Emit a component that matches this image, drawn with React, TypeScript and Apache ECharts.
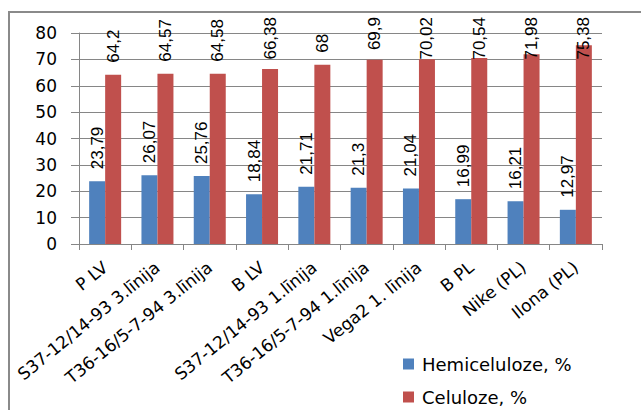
import React, { useEffect, useRef } from "react";
import * as echarts from "echarts";

// Varieties / breeding lines
const categories = [
  "P LV",
  "S37-12/14-93 3.līnija",
  "T36-16/5-7-94 3.līnija",
  "B LV",
  "S37-12/14-93 1.līnija",
  "T36-16/5-7-94 1.līnija",
  "Vega2 1. līnija",
  "B PL",
  "Nike (PL)",
  "Ilona (PL)",
];

// Content, %
const hemicelluloseValues = [23.79, 26.07, 25.76, 18.84, 21.71, 21.3, 21.04, 16.99, 16.21, 12.97];
const celluloseValues = [64.2, 64.57, 64.58, 66.38, 68, 69.9, 70.02, 70.54, 71.98, 75.38];

const seriesNames = ["Hemiceluloze, %", "Celuloze, %"];
const seriesColors = ["#4F81BD", "#C0504D"];

const axisGray = "#868686";
const labelFont = "'DejaVu Sans', Verdana, sans-serif";
const valueFont = "'Liberation Sans', Arial, sans-serif";

const toComma = (v: number) => String(v).replace(".", ",");

// keep rotated value labels inside the chart frame
const clampTop = (p: any) => {
  const r = p.labelRect;
  return r.y < 17 ? { y: 17 + r.height } : {};
};

export default function App() {
  const ref = useRef<HTMLDivElement>(null);

  useEffect(() => {
    if (!ref.current) return;
    const chart = echarts.init(ref.current, undefined, { renderer: "svg" });

    const valueLabel = {
      show: true,
      position: "top" as const,
      distance: 12,
      rotate: 90,
      align: "left" as const,
      verticalAlign: "middle" as const,
      fontFamily: valueFont,
      fontSize: 17,
      color: "#000",
      formatter: (p: any) => toComma(p.value),
    };

    chart.setOption({
      animation: false,
      backgroundColor: "#fff",
      graphic: [
        {
          type: "rect",
          shape: { x: 9, y: 12, width: 700, height: 500 },
          style: { fill: "none", stroke: "#8a8a8a", lineWidth: 2 },
          silent: true,
        },
      ],
      grid: { left: 79, right: 39, top: 33, bottom: 166, containLabel: false },
      legend: {
        orient: "vertical",
        left: 403,
        top: 355,
        height: 60,
        padding: 0,
        itemWidth: 11,
        itemHeight: 11,
        itemGap: 15,
        icon: "rect",
        data: seriesNames,
        textStyle: { fontFamily: labelFont, fontSize: 18, color: "#000", padding: [0, 0, 0, 3] },
      },
      xAxis: {
        type: "category",
        data: categories,
        axisLine: { show: true, lineStyle: { color: axisGray, width: 1 } },
        axisTick: { show: true, length: 6, lineStyle: { color: axisGray } },
        axisLabel: {
          interval: 0,
          rotate: 39,
          margin: 21,
          fontFamily: labelFont,
          fontSize: 17,
          color: "#000",
        },
      },
      yAxis: {
        type: "value",
        min: 0,
        max: 80,
        interval: 10,
        axisLine: { show: true, lineStyle: { color: axisGray, width: 1 } },
        axisTick: { show: true, length: 8, lineStyle: { color: axisGray } },
        splitLine: { show: true, lineStyle: { color: axisGray, width: 1 } },
        axisLabel: { margin: 22, fontFamily: labelFont, fontSize: 17, color: "#000" },
      },
      series: [
        {
          name: seriesNames[0],
          type: "bar",
          data: hemicelluloseValues,
          barWidth: 16,
          barGap: "0%",
          itemStyle: { color: seriesColors[0] },
          label: valueLabel,
          labelLayout: clampTop,
        },
        {
          name: seriesNames[1],
          type: "bar",
          data: celluloseValues,
          barWidth: 16,
          barGap: "0%",
          itemStyle: { color: seriesColors[1] },
          label: valueLabel,
          labelLayout: clampTop,
        },
      ],
    });

    return () => chart.dispose();
  }, []);

  return (
    <div
      ref={ref}
      style={{ position: "fixed", left: 0, top: 0, width: 641, height: 410 }}
    />
  );
}
